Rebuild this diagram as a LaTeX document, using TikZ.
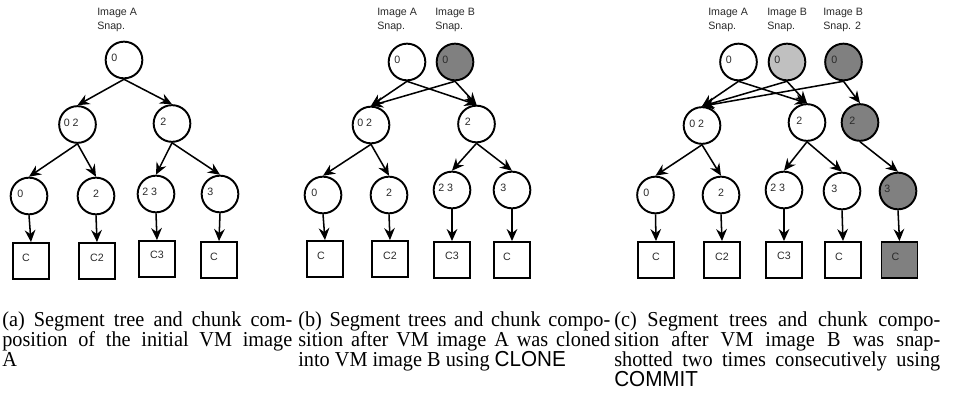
\documentclass[tikz,border=0pt]{standalone}
\usepackage{fontspec}
\usepackage{graphicx}
\setmainfont{Liberation Serif}
\setsansfont{Liberation Sans}
\usetikzlibrary{arrows.meta,calc}
\definecolor{dkgray}{HTML}{808080}
\definecolor{ltgray}{HTML}{C0C0C0}
\definecolor{txtgray}{HTML}{2A2A2A}
\newcommand{\capline}[2]{\scalebox{1}[1.05]{\makebox[#1][s]{#2}}}
\newcommand{\capnat}[1]{\scalebox{1}[1.05]{#1}}
\begin{document}
\begin{tikzpicture}[x=0.75pt,y=-0.75pt,
  seg/.style={circle,draw,line width=1.45pt,minimum size=27.5pt,inner sep=0pt},
  chunk/.style={rectangle,draw,line width=1.45pt,minimum size=27pt,inner sep=0pt},
  dark/.style={fill=dkgray},
  light/.style={fill=ltgray},
  lbl/.style={font=\sffamily\fontsize{8}{9}\selectfont,text=txtgray,inner sep=0pt},
  lw/.style={lbl,anchor=west},
  hdr/.style={font=\sffamily\fontsize{8}{10.5}\selectfont,text=txtgray,inner sep=0pt,align=left,anchor=north west},
  ptr/.style={-{Stealth[length=9pt,width=8pt,inset=3pt]},line width=1.15pt},
  captext/.style={font=\fontsize{15.2}{15}\selectfont,inner sep=0pt,anchor=base west,text height=10.5pt,text depth=3.5pt}]
\useasboundingbox (0,0) rectangle (956,396);

% ---------------- panel (a)
\node[hdr] (ah1) at (97,8) {Image A\\Snap.};
\node[seg] (a0) at (124,60) {};
\node[seg] (a1) at (77.5,124.5) {};
\node[seg] (a2) at (172,123.5) {};
\node[seg] (a3) at (29,196) {};
\node[seg] (a4) at (96,196) {};
\node[seg] (a5) at (156,194) {};
\node[seg] (a6) at (220,194) {};
\node[chunk] (ac3) at (31,261) {};
\node[chunk] (ac4) at (97,261) {};
\node[chunk] (ac5) at (157,259) {};
\node[chunk] (ac6) at (219,260) {};
\node[lw] (a0t) at ($(a0)+(-13,-2)$) {0};
\node[lw] (a1t) at ($(a1)+(-14,-2)$) {0 2};
\node[lw] (a2t) at ($(a2)+(-12,-2)$) {2};
\node[lw] (a3t) at ($(a3)+(-12,-2)$) {0};
\node[lbl] (a4t) at ($(a4)+(0,-2)$) {2};
\node[lw] (a5t) at ($(a5)+(-14,-2)$) {2 3};
\node[lw] (a6t) at ($(a6)+(-13,-2)$) {3};
\node[lbl] (ac3t) at ($(ac3)+(-5,-3)$) {C};
\node[lbl] (ac4t) at ($(ac4)+(0,-3)$) {C2};
\node[lbl] (ac5t) at ($(ac5)+(0,-4)$) {C3};
\node[lbl] (ac6t) at ($(ac6)+(-5,-3)$) {C};
\draw[ptr] (a0.south) -- (a1.north);
\draw[ptr] (a0.south) -- (a2.north);
\draw[ptr] (a1.south) -- (a3.north);
\draw[ptr] (a1.south) -- (a4.north);
\draw[ptr] (a2.south) -- (a5.north);
\draw[ptr] (a2.south) -- (a6.north);
\draw[ptr] (a3.south) -- (ac3.north);
\draw[ptr] (a4.south) -- (ac4.north);
\draw[ptr] (a5.south) -- (ac5.north);
\draw[ptr] (a6.south) -- (ac6.north);

% ---------------- panel (b)
\node[hdr] (bh1) at (377,8) {Image A\\Snap.};
\node[hdr] (bh2) at (435,8) {Image B\\Snap.};
\node[seg] (b0) at (407,62) {};
\node[seg,dark] (bb) at (455,62) {};
\node[seg] (b1) at (371,125) {};
\node[seg] (b2) at (476.5,124) {};
\node[seg] (b3) at (323,195) {};
\node[seg] (b4) at (389,195) {};
\node[seg] (b5) at (452,190) {};
\node[seg] (b6) at (512,190) {};
\node[chunk] (bc3) at (325,259) {};
\node[chunk] (bc4) at (390,259) {};
\node[chunk] (bc5) at (452,260) {};
\node[chunk] (bc6) at (512,260) {};
\node[lw] (b0t) at ($(b0)+(-13,-2)$) {0};
\node[lw] (bbt) at ($(bb)+(-13,-2)$) {0};
\node[lw] (b1t) at ($(b1)+(-14,-2)$) {0 2};
\node[lw] (b2t) at ($(b2)+(-12,-2)$) {2};
\node[lw] (b3t) at ($(b3)+(-12,-2)$) {0};
\node[lbl] (b4t) at ($(b4)+(0,-2)$) {2};
\node[lw] (b5t) at ($(b5)+(-14,-2)$) {2 3};
\node[lw] (b6t) at ($(b6)+(-12,-2)$) {3};
\node[lbl] (bc3t) at ($(bc3)+(-4,-3)$) {C};
\node[lbl] (bc4t) at ($(bc4)+(0,-3)$) {C2};
\node[lbl] (bc5t) at ($(bc5)+(0,-4)$) {C3};
\node[lbl] (bc6t) at ($(bc6)+(-5,-3)$) {C};
\draw[ptr] (b0.south) -- (b1.north);
\draw[ptr] (b0.south) -- (b2.north);
\draw[ptr] (bb.south) -- (b1.north);
\draw[ptr] (bb.south) -- (b2.north);
\draw[ptr] (b1.south) -- (b3.north);
\draw[ptr] (b1.south) -- (b4.north);
\draw[ptr] (b2.south) -- (b5.north);
\draw[ptr] (b2.south) -- (b6.north);
\draw[ptr] (b3.south) -- (bc3.north);
\draw[ptr] (b4.south) -- (bc4.north);
\draw[ptr] (b5.south) -- (bc5.north);
\draw[ptr] (b6.south) -- (bc6.north);

% ---------------- panel (c)
\node[hdr] (ch1) at (708,8) {Image A\\Snap.};
\node[hdr] (ch2) at (767,8) {Image B\\Snap.};
\node[hdr] (ch3) at (823,8) {Image B\\Snap. 2};
\node[seg] (c0) at (738.5,62) {};
\node[seg,light] (cb) at (787,62) {};
\node[seg,dark] (cbb) at (843.5,62) {};
\node[seg] (c1) at (702,125.5) {};
\node[seg] (c2) at (807,122.5) {};
\node[seg,dark] (c7) at (860,122.5) {};
\node[seg] (c3) at (655.5,195) {};
\node[seg] (c4) at (721,195) {};
\node[seg] (c5) at (784,190) {};
\node[seg] (c6) at (842,191) {};
\node[seg,dark] (c8) at (898,191) {};
\node[chunk] (cc3) at (656,260) {};
\node[chunk] (cc4) at (722,260) {};
\node[chunk] (cc5) at (784,260) {};
\node[chunk] (cc6) at (843,260) {};
\node[chunk,dark] (cc8) at (899.5,260) {};
\node[lw] (c0t) at ($(c0)+(-13,-2)$) {0};
\node[lw] (cbt) at ($(cb)+(-13,-2)$) {0};
\node[lw] (cbbt) at ($(cbb)+(-12.5,-2)$) {0};
\node[lw] (c1t) at ($(c1)+(-13,-2)$) {0 2};
\node[lw] (c2t) at ($(c2)+(-11,-2)$) {2};
\node[lw] (c7t) at ($(c7)+(-11,-2)$) {2};
\node[lw] (c3t) at ($(c3)+(-12.5,-2)$) {0};
\node[lbl] (c4t) at ($(c4)+(0,-2)$) {2};
\node[lw] (c5t) at ($(c5)+(-14,-2)$) {2 3};
\node[lw] (c6t) at ($(c6)+(-11,-2)$) {3};
\node[lw] (c8t) at ($(c8)+(-14,-2)$) {3};
\node[lbl] (cc3t) at ($(cc3)+(0,-3)$) {C};
\node[lbl] (cc4t) at ($(cc4)+(0,-3)$) {C2};
\node[lbl] (cc5t) at ($(cc5)+(0,-4)$) {C3};
\node[lbl] (cc6t) at ($(cc6)+(-4,-3)$) {C};
\node[lbl] (cc8t) at ($(cc8)+(-4,-3)$) {C};
\draw[ptr] (c0.south) -- (c1.north);
\draw[ptr] (c0.south) -- (c2.north);
\draw[ptr] (cb.south) -- (c1.north);
\draw[ptr] (cb.south) -- (c2.north);
\draw[ptr] (cbb.south) -- (c1.north);
\draw[ptr] (cbb.south) -- (c7.north);
\draw[ptr] (c1.south) -- (c3.north);
\draw[ptr] (c1.south) -- (c4.north);
\draw[ptr] (c2.south) -- (c5.north);
\draw[ptr] (c2.south) -- (c6.north);
\draw[ptr] (c7.south) -- (c8.north);
\draw[ptr] (c3.south) -- (cc3.north);
\draw[ptr] (c4.south) -- (cc4.north);
\draw[ptr] (c5.south) -- (cc5.north);
\draw[ptr] (c6.south) -- (cc6.north);
\draw[ptr] (c8.south) -- (cc8.north);

% ---------------- captions
\node[captext] (capa1) at (2,326) {\capline{217.5pt}{(a) Segment tree and chunk com-}};
\node[captext] (capa2) at (2,346) {\capline{217.5pt}{position of the initial VM image}};
\node[captext] (capa3) at (2,366) {\capnat{A}};
\node[captext] (capb1) at (298,326) {\capline{234pt}{(b) Segment trees and chunk compo-}};
\node[captext] (capb2) at (298,346) {\capline{234pt}{sition after VM image A was cloned}};
\node[captext] (capb3) at (298,366) {\capnat{into VM image B using {\sffamily\fontsize{15.5}{15}\selectfont CLONE}}};
\node[captext] (capc1) at (614,326) {\capline{244.5pt}{(c) Segment trees and chunk compo-}};
\node[captext] (capc2) at (614,346) {\capline{244.5pt}{sition after VM image B was snap-}};
\node[captext] (capc3) at (614,366) {\capline{244.5pt}{shotted two times consecutively using}};
\node[captext] (capc4) at (614,386) {\capnat{\sffamily\fontsize{15.5}{15}\selectfont COMMIT}};
\end{tikzpicture}
\end{document}
